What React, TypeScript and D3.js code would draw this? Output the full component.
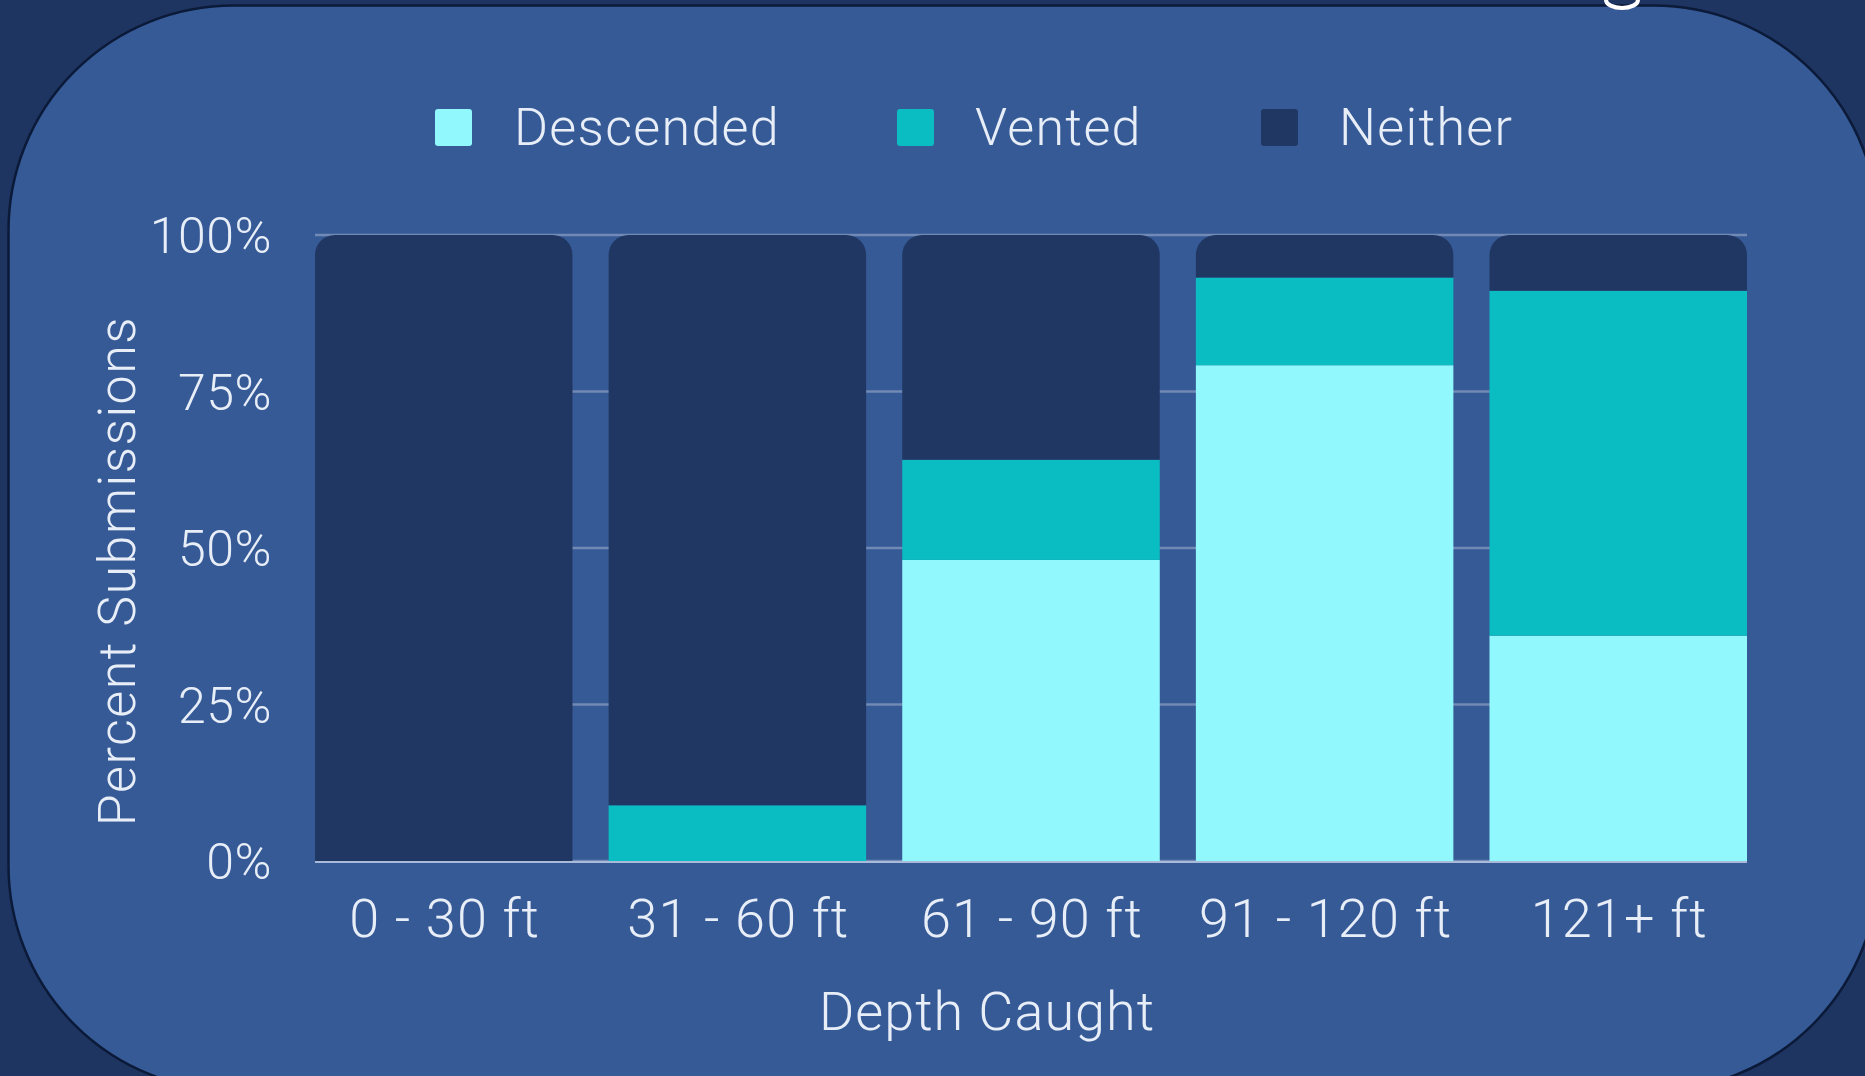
import React from "react";
import * as d3 from "d3";

const categories = ["0 - 30 ft", "31 - 60 ft", "61 - 90 ft", "91 - 120 ft", "121+ ft"];
const seriesKeys = ["Descended", "Vented", "Neither"];
const descended = [0, 0, 48.1, 79.2, 36.0];
const vented = [0, 8.9, 16.0, 14.0, 55.1];
const neither = [100, 91.1, 35.9, 6.8, 8.9];
const yTicks = [0, 25, 50, 75, 100];
const colors: Record<string, string> = {
  Descended: "#91f9fd",
  Vented: "#0abdc2",
  Neither: "#203763",
};

const W = 1865;
const H = 1076;
const FONT = "Roboto, 'Open Sans', sans-serif";
const TEXT = "#e8eef8";

function topRoundedRect(x: number, y: number, w: number, h: number, r: number) {
  const rr = Math.min(r, h, w / 2);
  const p = d3.path();
  p.moveTo(x, y + h);
  p.lineTo(x, y + rr);
  p.arcTo(x, y, x + rr, y, rr);
  p.lineTo(x + w - rr, y);
  p.arcTo(x + w, y, x + w, y + rr, rr);
  p.lineTo(x + w, y + h);
  p.closePath();
  return p.toString();
}

export default function App() {
  const rows = categories.map((c, i) => ({
    cat: c,
    Descended: descended[i],
    Vented: vented[i],
    Neither: neither[i],
  }));
  const stacked = d3.stack<any>().keys(seriesKeys)(rows);

  const x = d3.scaleBand<string>().domain(categories).range([315, 1747]).paddingInner(0.123).paddingOuter(0);
  const y = d3.scaleLinear().domain([0, 100]).range([861, 235]);

  const legendItems = [
    { key: "Descended", sx: 435, tx: 514 },
    { key: "Vented", sx: 897, tx: 975 },
    { key: "Neither", sx: 1261, tx: 1339 },
  ];

  return (
    <div style={{ position: "fixed", left: 0, top: 0 }}>
      <svg width={W} height={H} style={{ display: "block" }}>
        <rect x={0} y={0} width={W} height={H} fill="#1f3561" />
        <rect x={8.5} y={5.5} width={1870} height={1085} rx={225} ry={225} fill="#365a96" stroke="#0b1a38" strokeWidth={2.5} />
        <path d="M1606,0 A16,8 0 0 0 1638,0" fill="none" stroke="#ffffff" strokeWidth={4} />

        {/* legend */}
        {legendItems.map((l) => (
          <g key={l.key}>
            <rect x={l.sx} y={109} width={37} height={37} rx={3} fill={colors[l.key]} />
            <text x={l.tx} y={145} fill={TEXT} fontFamily={FONT} fontWeight={300} fontSize={52} letterSpacing={1.3}>
              {l.key}
            </text>
          </g>
        ))}

        {/* gridlines */}
        {yTicks.map((t) => (
          <line key={t} x1={315} x2={1747} y1={y(t)} y2={y(t)} stroke="#7189b5" strokeWidth={2.5} />
        ))}

        {/* bars */}
        {categories.map((c, i) => {
          const segs = stacked
            .map((s) => ({ key: s.key, y0: s[i][0], y1: s[i][1] }))
            .filter((s) => s.y1 - s.y0 > 0);
          const topKey = segs.length ? segs[segs.length - 1].key : "";
          return (
            <g key={c}>
              {segs.map((s) => {
                const bx = x(c)!;
                const bw = x.bandwidth();
                const by = y(s.y1);
                const bh = y(s.y0) - y(s.y1);
                return s.key === topKey ? (
                  <path key={s.key} d={topRoundedRect(bx, by, bw, bh, 20)} fill={colors[s.key]} />
                ) : (
                  <rect key={s.key} x={bx} y={by} width={bw} height={bh} fill={colors[s.key]} />
                );
              })}
            </g>
          );
        })}

        {/* baseline */}
        <line x1={315} x2={1747} y1={y(0) + 1} y2={y(0) + 1} stroke="#a9badb" strokeWidth={2} />

        {/* y ticks */}
        {yTicks.map((t) => (
          <text key={t} x={272} y={y(t)} dy="0.36em" textAnchor="end" fill={TEXT} fontFamily={FONT} fontWeight={300} fontSize={50} letterSpacing={0.5}>
            {t}%
          </text>
        ))}

        {/* x ticks */}
        {categories.map((c) => (
          <text key={c} x={x(c)! + x.bandwidth() / 2 + 1} y={937} textAnchor="middle" fill={TEXT} fontFamily={FONT} fontWeight={300} fontSize={54} letterSpacing={1.2}>
            {c}
          </text>
        ))}

        {/* axis titles */}
        <text x={987} y={1030} textAnchor="middle" fill={TEXT} fontFamily={FONT} fontWeight={300} fontSize={54} letterSpacing={1}>
          Depth Caught
        </text>
        <text transform="translate(135,571) rotate(-90)" textAnchor="middle" fill={TEXT} fontFamily={FONT} fontWeight={300} fontSize={52} letterSpacing={1.5}>
          Percent Submissions
        </text>
      </svg>
    </div>
  );
}
